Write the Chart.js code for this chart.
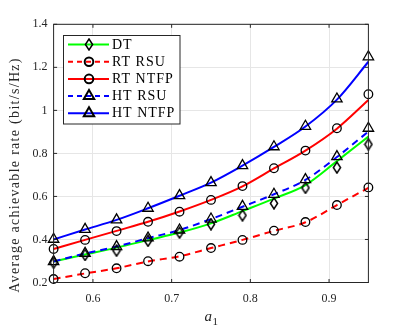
<!DOCTYPE html>
<html><head><meta charset="utf-8">
<script src="https://cdn.jsdelivr.net/npm/chart.js@4"></script>
<style>html,body{margin:0;padding:0;background:#fff;overflow:hidden}#wrap{position:relative;width:407px;height:327px}</style>
</head><body><div id="wrap"><canvas id="c" width="407" height="327"></canvas></div>
<script>
// ---- data ----
const a1 = [0.55,0.59,0.63,0.67,0.71,0.75,0.79,0.83,0.87,0.91,0.95];
const xTicks = [0.6,0.7,0.8,0.9];
const yTicks = [0.2,0.4,0.6,0.8,1.0,1.2,1.4];
const seriesNames = ['DT','RT RSU','RT NTFP','HT RSU','HT NTFP'];
const yTitle = 'Average achievable rate (bit/s/Hz)';
const xTitleMain = 'a';
const xTitleSub = '1';
// analytical curves
const dtCurve     = [0.298,0.330,0.362,0.397,0.432,0.475,0.532,0.590,0.653,0.764,0.878];
const rtRsuCurve  = [0.216,0.242,0.266,0.298,0.322,0.360,0.398,0.440,0.480,0.560,0.640];
const rtNtfpCurve = [0.356,0.398,0.440,0.482,0.530,0.584,0.647,0.730,0.813,0.915,1.048];
const htRsuCurve  = [0.298,0.335,0.367,0.406,0.444,0.495,0.552,0.610,0.677,0.783,0.902];
const htNtfpCurve = [0.400,0.446,0.491,0.545,0.603,0.664,0.743,0.830,0.925,1.050,1.226];
// simulation markers
const dtSim     = [0.292,0.328,0.348,0.394,0.432,0.471,0.512,0.568,0.640,0.734,0.842];
const rtRsuSim  = [0.216,0.243,0.266,0.299,0.320,0.360,0.398,0.441,0.481,0.560,0.642];
const rtNtfpSim = [0.356,0.398,0.439,0.482,0.529,0.584,0.648,0.731,0.813,0.917,1.075];
const htRsuSim  = [0.297,0.336,0.367,0.407,0.444,0.495,0.554,0.610,0.678,0.785,0.917];
const htNtfpSim = [0.401,0.447,0.491,0.545,0.604,0.664,0.743,0.831,0.926,1.053,1.249];

// ---- diamond marker image ----
function mk(w,h,draw){const c=document.createElement('canvas');c.width=w;c.height=h;const g=c.getContext('2d');g.strokeStyle='#000';g.lineWidth=1.5;draw(g);return c;}
const diaImg = mk(10,13,g=>{g.beginPath();g.moveTo(5,1);g.lineTo(8.6,6.5);g.lineTo(5,12);g.lineTo(1.4,6.5);g.closePath();g.stroke();});

const GREEN='#00ff00', RED='#ff0000', BLUE='#0000ff';
const styles = [
  {color:GREEN, dash:[], ps:diaImg, r:5, curve:dtCurve, sim:dtSim},
  {color:RED, dash:[7,5], ps:'circle', r:4.3, curve:rtRsuCurve, sim:rtRsuSim},
  {color:RED, dash:[], ps:'circle', r:4.3, curve:rtNtfpCurve, sim:rtNtfpSim},
  {color:BLUE, dash:[7,5], ps:'triangle', r:6, curve:htRsuCurve, sim:htRsuSim},
  {color:BLUE, dash:[], ps:'triangle', r:6, curve:htNtfpCurve, sim:htNtfpSim},
];
const pts = arr => a1.map((x,i)=>({x, y:arr[i]}));
const datasets = [];
styles.forEach((s,i)=>{
  datasets.push({label:seriesNames[i], data:pts(s.curve), borderColor:s.color, borderWidth:2, borderDash:s.dash,
    pointRadius:0, fill:false, cubicInterpolationMode:'monotone', clip:false, order:10-i});
});
styles.forEach((s,i)=>{
  datasets.push({label:seriesNames[i]+' sim', data:pts(s.sim), showLine:false, pointStyle:s.ps,
    pointRadius:s.r, pointBorderColor:'#000', pointBackgroundColor:'rgba(0,0,0,0)', pointBorderWidth:1.3, clip:false, order:1});
});

const FONT = '"Liberation Serif", "DejaVu Serif", serif';
const TXT = '#262626';

function drawMarker(ctx, s, x, y){
  if (typeof s.ps !== 'string') { ctx.drawImage(s.ps, x-s.ps.width/2, y-s.ps.height/2); return; }
  Chart.helpers.drawPoint(ctx, {pointStyle:s.ps, radius:s.r, borderWidth:1.3}, x, y);
}

const framePlugin = {
  id:'frame',
  afterDatasetsDraw(chart){
    const {ctx, chartArea:a, scales:{x,y}} = chart;
    ctx.save();
    ctx.strokeStyle=TXT; ctx.lineWidth=1;
    ctx.strokeRect(a.left, a.top, a.right-a.left, a.bottom-a.top);
    const L=3.5;
    ctx.beginPath();
    xTicks.forEach(v=>{const p=x.getPixelForValue(v);ctx.moveTo(p,a.bottom);ctx.lineTo(p,a.bottom-L);ctx.moveTo(p,a.top);ctx.lineTo(p,a.top+L);});
    yTicks.forEach(v=>{const p=y.getPixelForValue(v);ctx.moveTo(a.left,p);ctx.lineTo(a.left+L,p);ctx.moveTo(a.right,p);ctx.lineTo(a.right-L,p);});
    ctx.stroke();
    ctx.restore();
  },
  afterDraw(chart){
    const ctx = chart.ctx;
    // axis titles
    ctx.save();
    ctx.fillStyle=TXT;
    ctx.translate(15,175); ctx.rotate(-Math.PI/2);
    ctx.font='14px '+FONT; ctx.letterSpacing='1.3px';
    ctx.textAlign='center'; ctx.textBaseline='middle';
    ctx.fillText(yTitle,0,0);
    ctx.restore();
    ctx.save();
    ctx.fillStyle=TXT; ctx.textBaseline='alphabetic';
    ctx.font='italic 15px '+FONT; ctx.textAlign='right';
    ctx.fillText(xTitleMain,212,321);
    ctx.font='11px '+FONT; ctx.textAlign='left';
    ctx.fillText(xTitleSub,212.5,325);
    ctx.restore();
    // legend
    ctx.save();
    const bx=63.5, by=35.5, bw=116.5, bh=88.5;
    ctx.fillStyle='#fff'; ctx.fillRect(bx,by,bw,bh);
    ctx.strokeStyle=TXT; ctx.lineWidth=1; ctx.strokeRect(bx,by,bw,bh);
    styles.forEach((s,i)=>{
      const yy = 44.5 + i*17.2;
      ctx.strokeStyle=s.color; ctx.lineWidth=2; ctx.setLineDash(s.dash.length?[5,4]:[]);
      ctx.beginPath(); ctx.moveTo(68,yy); ctx.lineTo(109,yy); ctx.stroke();
      ctx.setLineDash([]);
      ctx.strokeStyle='#000'; ctx.fillStyle='rgba(0,0,0,0)';
      drawMarker(ctx, s, 89, yy);
      ctx.fillStyle='#000'; ctx.font='14px '+FONT; ctx.letterSpacing='1px';
      ctx.textAlign='left'; ctx.textBaseline='middle';
      ctx.fillText(seriesNames[i],112,yy+0.5);
    });
    ctx.restore();
  }
};

new Chart(document.getElementById('c'),{
  type:'line',
  data:{datasets},
  options:{
    responsive:false, animation:false, devicePixelRatio:1,
    layout:{padding:{left:0,top:24.3,right:38.6,bottom:0}},
    plugins:{legend:{display:false}, tooltip:{enabled:false}},
    scales:{
      x:{type:'linear', min:0.55, max:0.95,
        afterBuildTicks(s){s.ticks=xTicks.map(v=>({value:v}));},
        afterFit(s){s.height=44.5;},
        grid:{color:'#e6e6e6', drawTicks:false, lineWidth:1},
        border:{display:false},
        ticks:{padding:9, color:TXT, font:{family:FONT,size:12}, maxRotation:0, callback:v=>String(+v.toFixed(1))}},
      y:{type:'linear', min:0.2, max:1.4,
        afterBuildTicks(s){s.ticks=yTicks.map(v=>({value:v}));},
        afterFit(s){s.width=53.6;},
        grid:{color:'#e6e6e6', drawTicks:false, lineWidth:1},
        border:{display:false},
        ticks:{padding:6, color:TXT, font:{family:FONT,size:12}, callback:v=>String(+v.toFixed(1))}}
    }
  },
  plugins:[framePlugin]
});
</script></body></html>
